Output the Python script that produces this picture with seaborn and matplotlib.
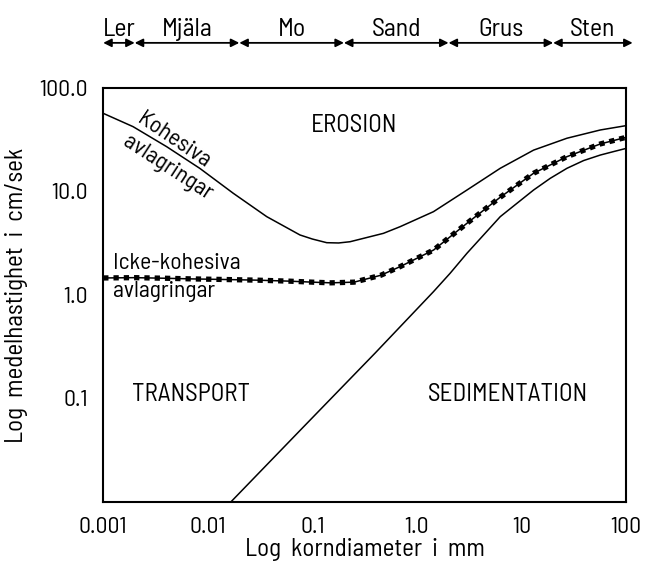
import numpy as np
import pandas as pd
import matplotlib
matplotlib.use("Agg")
import matplotlib.pyplot as plt
import seaborn as sns

# ---------------- data ----------------
grain_labels = ["Ler", "Mjäla", "Mo", "Sand", "Grus", "Sten"]
grain_bounds = [0.001, 0.002, 0.02, 0.2, 2.0, 20.0, 115.0]

# erosion curve, cohesive deposits
coh_x = [0.001, 0.00193, 0.00404, 0.0084, 0.0175, 0.0366, 0.076, 0.1, 0.137,
         0.178, 0.229, 0.477, 0.689, 1.435, 3.0, 6.24, 13.0, 27.1, 56.5, 100]
coh_y = [56.9, 42.3, 27.1, 16.7, 9.61, 5.71, 3.80, 3.47, 3.20,
         3.18, 3.27, 3.94, 4.57, 6.38, 10.33, 16.75, 25.1, 32.7, 39.3, 43.3]

# erosion curve, non-cohesive deposits
nonc_x = [0.001, 0.002, 0.004, 0.007, 0.015, 0.03, 0.06, 0.1, 0.15, 0.25,
          0.45, 0.69, 1.44, 3.0, 6.24, 13.0, 27.1, 56.5, 100]
nonc_y = [1.46, 1.47, 1.45, 1.43, 1.41, 1.39, 1.36, 1.33, 1.31, 1.33,
          1.55, 1.88, 2.72, 4.93, 8.8, 15.0, 21.7, 28.8, 33.4]

# sedimentation curve
sed_x = [0.0166, 0.0794, 0.398, 1.435, 2.07, 3.0, 6.24, 9.02, 13.0, 18.75,
         27.1, 39.1, 56.5, 75.7, 100]
sed_y = [0.01, 0.0513, 0.275, 1.076, 1.62, 2.53, 5.71, 7.69, 10.33, 13.4,
         16.75, 19.9, 22.5, 24.3, 26.1]

x_ticks = [0.001, 0.01, 0.1, 1.0, 10, 100]
x_ticklabels = ["0.001", "0.01", "0.1", "1.0", "10", "100"]
y_ticks = [0.01, 0.1, 1.0, 10.0, 100.0]
y_ticklabels = ["", "0.1", "1.0", "10.0", "100.0"]

# ---------------- styling ----------------
sns.set_theme(style="white")
plt.rcParams["font.family"] = ["Barlow Semi Condensed", "Roboto Condensed",
                               "Liberation Sans Narrow", "DejaVu Sans"]
for k in ["text.color", "axes.labelcolor", "xtick.color", "ytick.color",
          "axes.edgecolor"]:
    plt.rcParams[k] = "black"

fig = plt.figure(figsize=(6.45, 5.64), dpi=100)
ax = fig.add_axes([0.160, 0.110, 0.811, 0.734])

lw = 1.1
coh = pd.DataFrame({"x": coh_x, "y": coh_y})
nonc = pd.DataFrame({"x": nonc_x, "y": nonc_y})
sed = pd.DataFrame({"x": sed_x, "y": sed_y})

sns.lineplot(data=coh, x="x", y="y", ax=ax, color="black", lw=lw,
             sort=False, estimator=None, legend=False)
sns.lineplot(data=sed, x="x", y="y", ax=ax, color="black", lw=lw,
             sort=False, estimator=None, legend=False)
sns.lineplot(data=nonc, x="x", y="y", ax=ax, color="black", lw=lw,
             sort=False, estimator=None, legend=False)
sns.lineplot(data=nonc, x="x", y="y", ax=ax, color="black", lw=3.8,
             linestyle=(0, (1.0, 0.95)), dash_capstyle="butt",
             sort=False, estimator=None, legend=False)

ax.set_xscale("log")
ax.set_yscale("log")
ax.set_xlim(0.001, 100)
ax.set_ylim(0.01, 100)
ax.set_xticks(x_ticks)
ax.set_xticklabels(x_ticklabels)
ax.set_yticks(y_ticks)
ax.set_yticklabels(y_ticklabels)
ax.minorticks_off()
ax.tick_params(axis="both", which="major", direction="out", length=8,
               width=1.3, color="black", labelsize=17, pad=3)
for s in ax.spines.values():
    s.set_visible(True)
    s.set_linewidth(1.5)
    s.set_color("black")

ax.set_xlabel("Log  korndiameter  i  mm", fontsize=18, labelpad=0)
ax.set_ylabel("Log  medelhastighet  i  cm/sek", fontsize=18, labelpad=8)

# region labels
ax.text(0.251, 43, "EROSION", fontsize=18, ha="center", va="center")
ax.text(0.0069, 0.11, "TRANSPORT", fontsize=18, ha="center", va="center")
ax.text(7.4, 0.11, "SEDIMENTATION", fontsize=18, ha="center", va="center")

# curve labels
ax.text(0.0047, 30.8, "Kohesiva", fontsize=17, rotation=-34,
        ha="center", va="center", rotation_mode="anchor")
ax.text(0.0041, 16.8, "avlagringar", fontsize=17, rotation=-33,
        ha="center", va="center", rotation_mode="anchor")
ax.text(0.00125, 2.0, "Icke-kohesiva", fontsize=17, ha="left", va="center")
ax.text(0.00125, 1.09, "avlagringar", fontsize=17, ha="left", va="center")

# grain size classes on top
trans = ax.get_xaxis_transform()
for i, lab in enumerate(grain_labels):
    a, b = grain_bounds[i], grain_bounds[i + 1]
    ax.annotate("", xy=(b, 1.109), xytext=(a, 1.109), xycoords=trans,
                textcoords=trans, annotation_clip=False,
                arrowprops=dict(arrowstyle="<|-|>", color="black", lw=1.3,
                                shrinkA=0, shrinkB=0, mutation_scale=12))
    xm = np.sqrt(a * b)
    ax.text(xm, 1.142, lab, transform=trans, fontsize=18.5,
            ha="center", va="center", clip_on=False)

fig.savefig("out.png", dpi=100, facecolor="white")
